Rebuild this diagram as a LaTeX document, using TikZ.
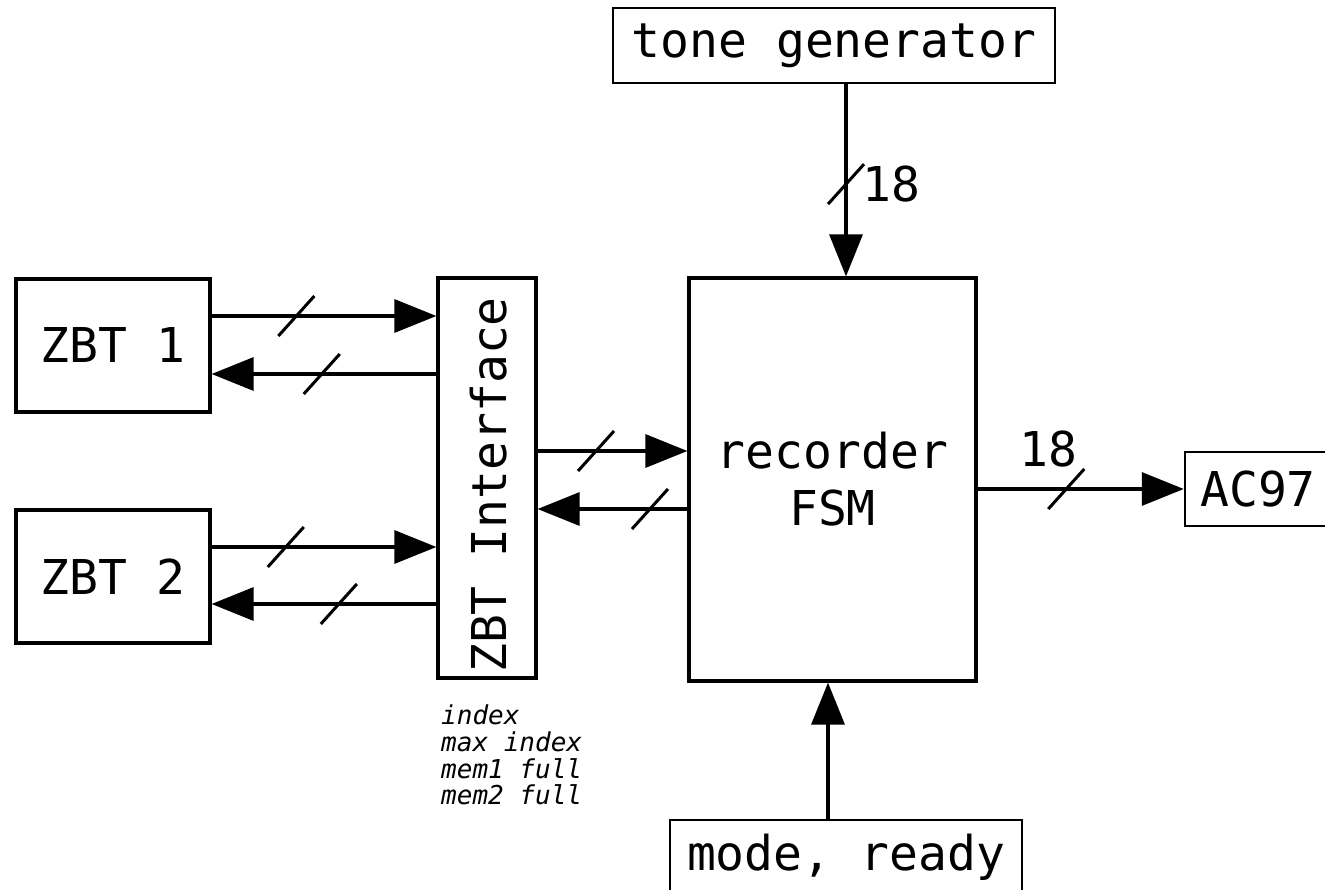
\documentclass[tikz,border=0pt]{standalone}
\usepackage{fontspec}
\setmainfont{DejaVu Sans Mono}
\usetikzlibrary{arrows.meta,calc}
\begin{document}
\begin{tikzpicture}[x=1pt,y=-1pt,
  bigbox/.style={draw, line width=3.2pt, inner sep=0pt, align=center,
    font=\fontsize{48}{57}\selectfont},
  smallbox/.style={draw, line width=2.4pt, inner sep=0pt, align=center,
    font=\fontsize{48}{57}\selectfont},
  txt/.style={inner sep=0pt, font=\fontsize{48}{57}\selectfont},
  note/.style={inner sep=0pt, align=left, font=\fontsize{26}{26.6}\selectfont\itshape},
  arr/.style={line width=3.2pt, -{Triangle[length=42pt,width=33pt]}},
  slashln/.style={line width=3pt}]
\useasboundingbox (0,0) rectangle (1325,890);

% blocks
\node[bigbox, minimum width=194pt, minimum height=133pt] (zbt1) at (113,345.5) {ZBT 1};
\node[bigbox, minimum width=194pt, minimum height=133pt] (zbt2) at (113,576.5) {ZBT 2};
\node[bigbox, minimum width=98pt, minimum height=400pt] (iface) at (487,478) {};
\node[txt, rotate=90] (ifacetxt) at (489,485) {ZBT Interface};
\node[bigbox, minimum width=287pt, minimum height=403pt] (fsm) at (832.5,479.5) {recorder\\FSM};
\node[smallbox, minimum width=442pt, minimum height=75pt] (tone) at (834,45.5) {tone generator};
\node[smallbox, minimum width=146pt, minimum height=74pt] (ac) at (1258,489) {AC97};
\node[smallbox, minimum width=352pt, minimum height=75pt] (mode) at (846,857.5) {mode, ready};
\node[note, anchor=north west] (notes) at (441,705) {index\\max index\\mem1 full\\mem2 full};

% ZBT 1 <-> interface
\draw[arr] ([yshift=29.5pt]zbt1.east) -- coordinate[pos=0.377] (s1) ([yshift=29.5pt]zbt1.east -| iface.west);
\draw[arr] ([yshift=-28.5pt]zbt1.east -| iface.west) -- coordinate[pos=0.51] (s2) ([yshift=-28.5pt]zbt1.east);
% ZBT 2 <-> interface
\draw[arr] ([yshift=29.5pt]zbt2.east) -- coordinate[pos=0.33] (s3) ([yshift=29.5pt]zbt2.east -| iface.west);
\draw[arr] ([yshift=-27.5pt]zbt2.east -| iface.west) -- coordinate[pos=0.434] (s4) ([yshift=-27.5pt]zbt2.east);
% interface <-> FSM
\draw[arr] ([yshift=28.5pt]fsm.west -| iface.east) -- coordinate[pos=0.39] (s5) ([yshift=28.5pt]fsm.west);
\draw[arr] ([yshift=-29.5pt]fsm.west) -- coordinate[pos=0.25] (s6) ([yshift=-29.5pt]fsm.west -| iface.east);
% tone generator -> FSM
\draw[arr] (tone.south -| 846,0) -- coordinate[pos=0.52] (s7) (fsm.north -| 846,0);
% FSM -> AC97
\draw[arr] (fsm.east |- ac.west) -- coordinate[pos=0.43] (s8) (ac.west);
% mode -> FSM
\draw[arr] (mode.north -| 828,0) -- (fsm.south -| 828,0);

% bus slashes
\foreach \s in {s1,s2,s3,s4,s5,s6,s7,s8}
  \draw[slashln] ($(\s)+(-18,20)$) -- ($(\s)+(18,-20)$);

% bus widths
\node[txt] (w1) at ($(s7)+(45,0)$) {18};
\node[txt] (w2) at ($(s8)+(-18,-40)$) {18};
\end{tikzpicture}
\end{document}
